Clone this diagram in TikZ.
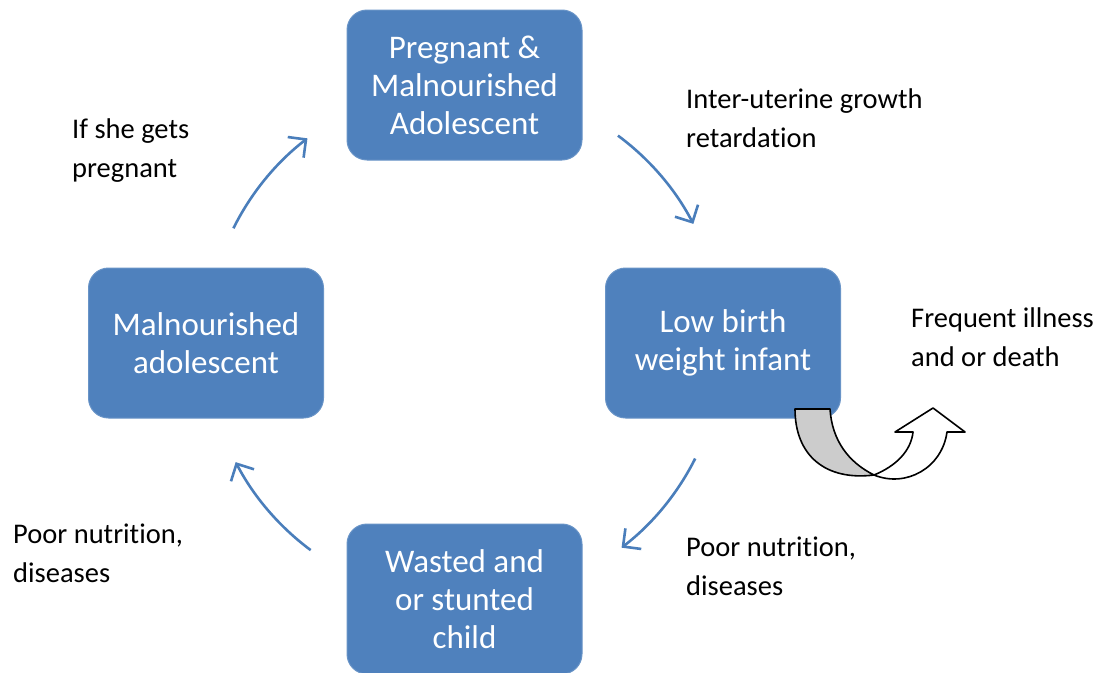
\documentclass[tikz,border=0pt]{standalone}
\usepackage{fontspec}
\setmainfont{Carlito}[Ligatures={NoCommon}]
\usetikzlibrary{arrows.meta,calc}
\definecolor{boxblue}{RGB}{79,129,189}
\definecolor{arrblue}{RGB}{74,126,187}
\definecolor{uturngray}{RGB}{204,204,204}
\tikzset{
  cyclebox/.style={rectangle, rounded corners=20pt, fill=boxblue, draw=boxblue!85!white, line width=1pt,
    minimum width=235pt, minimum height=150pt, text=white, align=center, inner sep=0pt,
    font=\fontsize{33}{38}\selectfont},
  note/.style={anchor=west, align=left, inner sep=0pt, text=black,
    font=\fontsize{28.5}{39}\selectfont},
  cyclearrow/.style={draw=arrblue, line width=2.6pt, -{Straight Barb[length=13pt,width=26pt,line width=2.6pt]}},
  uturn/.style={draw=black, line width=1.6pt, line join=round}
}
\begin{document}
\begin{tikzpicture}[x=1pt,y=-1pt]
\useasboundingbox (0,0) rectangle (1107,672);
\clip (0,0) rectangle (1107,672);
% boxes
\node[cyclebox] (top) at (464.5,85) {Pregnant \&\\Malnourished\\Adolescent};
\node[cyclebox] (right) at (723,343) {Low birth\\weight infant};
\node[cyclebox] (left) at (206,343) {Malnourished\\adolescent};
\node[cyclebox] (bottom) at (464.5,599) {Wasted and\\or stunted\\child};
% cycle arrows (arcs of a circle about the centre)
\coordinate (c) at (464.5,343);
\draw[cyclearrow] ($(c)+(-153.6:258)$) arc[start angle=-153.6, end angle=-127.5, radius=258];
\draw[cyclearrow] ($(c)+(-53.5:258)$) arc[start angle=-53.5, end angle=-27.5, radius=258];
\draw[cyclearrow] ($(c)+(26.6:258)$) arc[start angle=26.6, end angle=52.5, radius=258];
\draw[cyclearrow] ($(c)+(126.6:258)$) arc[start angle=126.6, end angle=152.5, radius=258];
% labels
\node[note] (l1) at (72,151) {If she gets\\pregnant};
\node[note] (l2) at (686,118) {Inter-uterine growth\\retardation};
\node[note] (l3) at (911,337.5) {Frequent illness\\and or death};
\node[note] (l4) at (686,566) {Poor nutrition,\\diseases};
\node[note] (l5) at (13,553.5) {Poor nutrition,\\diseases};
% U-turn arrow
\coordinate (ua) at (795,409);
\coordinate (ub) at (830,409);
\coordinate (ubot) at (874,475);
\fill[white] (ubot) .. controls (896,466) and (911,451) .. (913,432) -- (895,432) -- (933,408) -- (965,432) -- (947,432)
  .. controls (942,468) and (906,488) .. (ubot) -- cycle;
\draw[uturn] (ubot) .. controls (896,466) and (911,451) .. (913,432) -- (895,432) -- (933,408) -- (965,432) -- (947,432)
  .. controls (942,468) and (906,488) .. (ubot);
\filldraw[uturn, fill=uturngray] (ua) -- (ub) .. controls (832,440) and (848,462) .. (ubot)
  .. controls (826,481) and (795,456) .. (ua) -- cycle;
\end{tikzpicture}
\end{document}
